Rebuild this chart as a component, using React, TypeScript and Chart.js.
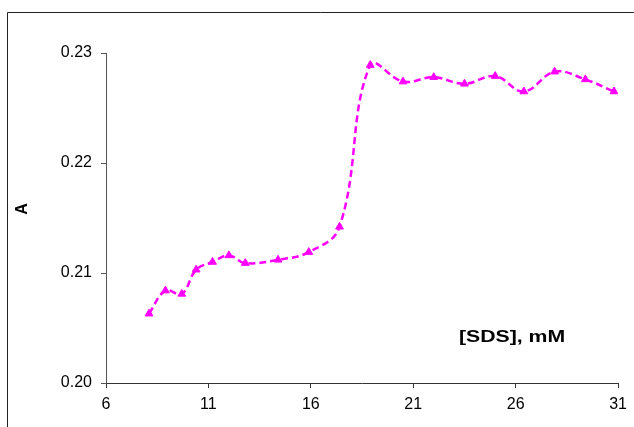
import React, { useEffect, useRef } from "react";
import { Chart, registerables } from "chart.js";

Chart.register(...registerables);

const sdsConc = [8.1, 8.9, 9.7, 10.4, 11.2, 12.0, 12.8, 14.4, 15.9, 17.4, 18.9, 20.5, 22.0, 23.5, 25.0, 26.4, 27.9, 29.4, 30.8];
const absorbance = [0.2063, 0.2084, 0.2081, 0.2103, 0.2110, 0.2116, 0.2109, 0.2112, 0.2119, 0.2142, 0.2289, 0.2274, 0.2278, 0.2272, 0.2279, 0.2265, 0.2283, 0.2276, 0.2265];
const xTicks = { min: 6, max: 31, step: 5 };
const yTicks = { min: 0.2, max: 0.23, step: 0.01 };
const yTitle = "A";
const xTitle = "[SDS], mM";

const FONT = "'Liberation Sans', Arial, sans-serif";

const decorPlugin = {
  id: "decor",
  beforeDraw(chart: any) {
    const ctx = chart.ctx;
    ctx.save();
    ctx.strokeStyle = "#222";
    ctx.lineWidth = 1;
    ctx.beginPath();
    ctx.moveTo(7.5, 427);
    ctx.lineTo(7.5, 12.5);
    ctx.lineTo(634, 12.5);
    ctx.stroke();
    ctx.restore();
  },
  afterDraw(chart: any) {
    const ctx = chart.ctx;
    ctx.save();
    ctx.fillStyle = "#000";
    ctx.translate(22.5, 209);
    ctx.rotate(-Math.PI / 2);
    ctx.font = `bold 16px ${FONT}`;
    ctx.textAlign = "center";
    ctx.textBaseline = "middle";
    ctx.fillText(yTitle, 0, 0);
    ctx.restore();

    ctx.save();
    ctx.fillStyle = "#000";
    ctx.translate(512, 337);
    ctx.scale(1.25, 1);
    ctx.font = `bold 17px ${FONT}`;
    ctx.textAlign = "center";
    ctx.textBaseline = "middle";
    ctx.fillText(xTitle, 0, 0);
    ctx.restore();
  },
};

export default function App() {
  const ref = useRef<HTMLCanvasElement | null>(null);

  useEffect(() => {
    if (!ref.current) return;
    const chart = new Chart(ref.current, {
      type: "line",
      data: {
        datasets: [
          {
            data: sdsConc.map((x, i) => ({ x, y: absorbance[i] })),
            borderColor: "#FF00FF",
            backgroundColor: "#FF00FF",
            borderWidth: 2.5,
            borderDash: [7, 4],
            tension: 0.4,
            pointStyle: "triangle",
            pointRadius: 4.5,
            pointBorderWidth: 1,
            fill: false,
          },
        ],
      },
      options: {
        animation: false,
        responsive: false,
        maintainAspectRatio: false,
        layout: { padding: { top: 53, right: 15, left: 0, bottom: 0 } },
        plugins: { legend: { display: false }, tooltip: { enabled: false } },
        scales: {
          x: {
            type: "linear",
            min: xTicks.min,
            max: xTicks.max,
            afterFit(scale: any) {
              scale.height = 44;
            },
            ticks: {
              stepSize: xTicks.step,
              color: "#000",
              font: { family: FONT, size: 16 },
              padding: 7,
              maxRotation: 0,
            },
            grid: {
              drawOnChartArea: false,
              drawTicks: true,
              tickLength: 5,
              tickColor: "#333",
              color: "#333",
            },
            border: { color: "#333", width: 1 },
          },
          y: {
            min: yTicks.min,
            max: yTicks.max,
            afterFit(scale: any) {
              scale.width = 106;
            },
            ticks: {
              stepSize: yTicks.step,
              color: "#000",
              font: { family: FONT, size: 16 },
              padding: 9,
              callback: (v: any) => Number(v).toFixed(2),
            },
            grid: {
              drawOnChartArea: false,
              drawTicks: true,
              tickLength: 5,
              tickColor: "#555",
              color: "#555",
            },
            border: { color: "#555", width: 1 },
          },
        },
      },
      plugins: [decorPlugin],
    });
    return () => chart.destroy();
  }, []);

  return (
    <div style={{ position: "fixed", left: 0, top: 0, width: 634, height: 427, background: "#fff" }}>
      <canvas ref={ref} width={634} height={427} style={{ width: 634, height: 427, display: "block" }} />
    </div>
  );
}
